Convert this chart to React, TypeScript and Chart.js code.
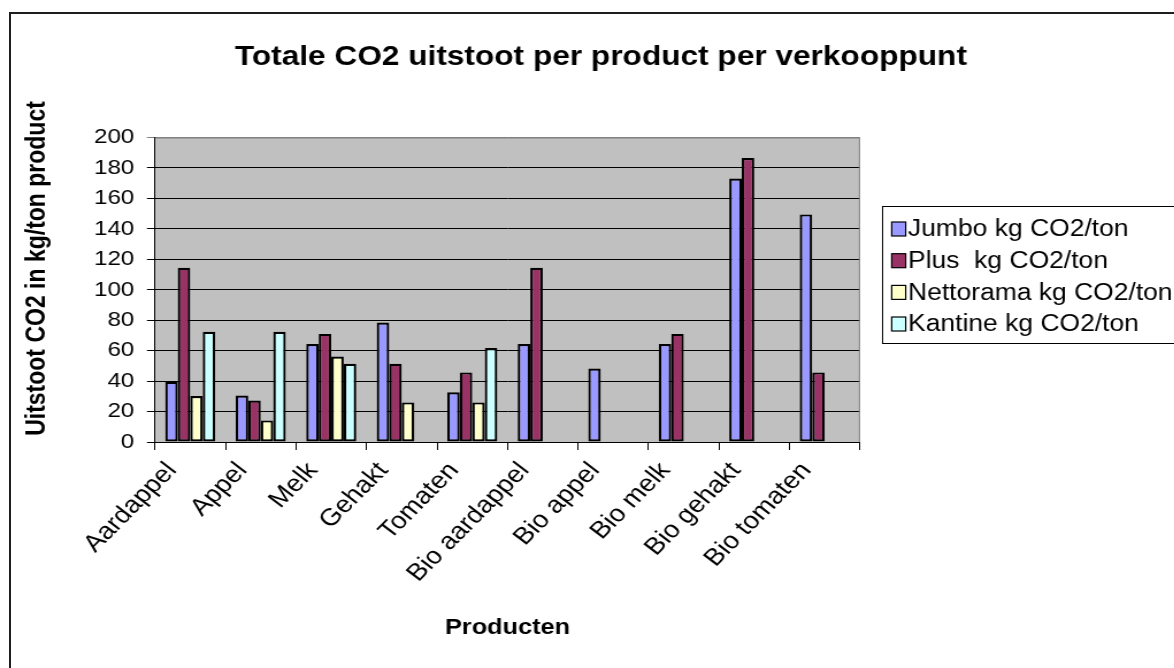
import React, { useEffect, useRef } from 'react';
import { Chart, registerables } from 'chart.js';

Chart.register(...registerables);

const categories = ['Aardappel', 'Appel', 'Melk', 'Gehakt', 'Tomaten', 'Bio aardappel', 'Bio appel', 'Bio melk', 'Bio gehakt', 'Bio tomaten'];
const jumbo = [39.5, 30.5, 64.3, 78.5, 32.6, 64.3, 48.3, 64.3, 173, 149.5];
const plus = [114.4, 27.3, 71, 51.4, 45.7, 114.4, null, 71, 186.5, 45.7];
const nettorama = [30.2, 14.2, 56.2, 26, 26, null, null, null, null, null];
const kantine = [72.4, 72.4, 51.4, null, 61.7, null, null, null, null, null];
const seriesLabels = ['Jumbo kg CO2/ton', 'Plus  kg CO2/ton', 'Nettorama kg CO2/ton', 'Kantine kg CO2/ton'];
const seriesColors = ['#9999FF', '#993366', '#FFFFCC', '#CCFFFF'];
const titleText = 'Totale CO2 uitstoot per product per verkooppunt';
const yTitleText = 'Uitstoot CO2 in kg/ton product';
const xTitleText = 'Producten';

const S = 1.15;
const W = Math.round(1174 / S);
const H = 668;
const FONT = "'Liberation Sans', Arial, sans-serif";
const PAD_LEFT = 24;

const decor = {
  id: 'decor',
  beforeDraw(chart: any) {
    const { ctx, chartArea: a } = chart;
    ctx.save();
    ctx.fillStyle = '#C0C0C0';
    ctx.fillRect(a.left, a.top, a.right - a.left, a.bottom - a.top);
    ctx.restore();
  },
  afterDraw(chart: any) {
    const { ctx, chartArea: a } = chart;
    ctx.save();
    ctx.strokeStyle = '#808080';
    ctx.lineWidth = 1;
    ctx.beginPath();
    ctx.moveTo(a.left, a.top + 0.5);
    ctx.lineTo(a.right - 0.5, a.top + 0.5);
    ctx.lineTo(a.right - 0.5, a.bottom);
    ctx.stroke();

    ctx.fillStyle = '#000';
    ctx.font = `bold 23px ${FONT}`;
    ctx.textAlign = 'center';
    ctx.textBaseline = 'middle';
    ctx.save();
    ctx.translate(38 / S, 268.5);
    ctx.rotate(-Math.PI / 2);
    ctx.fillText(yTitleText, 0, 0);
    ctx.restore();

    const lx = 882 / S;
    ctx.strokeStyle = '#000';
    ctx.lineWidth = 1;
    ctx.strokeRect(lx + 0.5, 206.5, 400, 137);
    const rows = [229, 260.7, 292.4, 324];
    ctx.font = `23px ${FONT}`;
    ctx.textAlign = 'left';
    ctx.textBaseline = 'middle';
    chart.data.datasets.forEach((ds: any, i: number) => {
      const y = rows[i];
      ctx.fillStyle = ds.backgroundColor;
      ctx.fillRect(891.7 / S, y - 7, 14 / S, 14);
      ctx.strokeStyle = '#000';
      ctx.lineWidth = 1.2;
      ctx.strokeRect(891.7 / S, y - 7, 14 / S, 14);
      ctx.fillStyle = '#000';
      ctx.fillText(ds.label, 908 / S, y + 1);
    });
    ctx.restore();
  },
};

export default function App() {
  const ref = useRef<HTMLCanvasElement>(null);
  useEffect(() => {
    const seriesData = [jumbo, plus, nettorama, kantine];
    const chart = new Chart(ref.current as HTMLCanvasElement, {
      type: 'bar',
      data: {
        labels: categories,
        datasets: seriesData.map((d, i) => ({
          label: seriesLabels[i],
          data: d,
          backgroundColor: seriesColors[i],
          borderColor: '#000',
          borderWidth: 2.2,
          borderSkipped: false,
          categoryPercentage: 0.71,
          barPercentage: 1.0,
        })),
      } as any,
      options: {
        responsive: false,
        devicePixelRatio: 1,
        animation: false,
        layout: { padding: { left: PAD_LEFT, right: 0, top: 0, bottom: 0 } },
        plugins: {
          legend: { display: false },
          tooltip: { enabled: false },
          title: {
            display: true,
            text: titleText,
            color: '#000',
            font: { family: FONT, size: 27.5, weight: 'bold' },
            padding: { top: 40.5, bottom: 64 },
          },
        },
        scales: {
          x: {
            type: 'category',
            grid: { drawOnChartArea: false, color: '#000', tickLength: 8, lineWidth: 1 },
            border: { color: '#000', width: 1 },
            ticks: {
              color: '#000',
              font: { family: FONT, size: 24 },
              minRotation: 49,
              maxRotation: 49,
              autoSkip: false,
              padding: 7,
              labelOffset: -16,
            },
            title: {
              display: true,
              text: xTitleText,
              color: '#000',
              font: { family: FONT, size: 22, weight: 'bold' },
              padding: { top: 0, bottom: 27 },
            },
            afterFit: (s: any) => { s.height = 226; },
          },
          y: {
            min: 0,
            max: 200,
            ticks: { stepSize: 20, color: '#000', font: { family: FONT, size: 21 }, padding: 11 },
            grid: {
              color: (c: any) => (c.tick && c.tick.value === 200 ? '#808080' : '#000'),
              tickLength: 7,
              lineWidth: 1,
            },
            border: { color: '#000', width: 1 },
            afterFit: (s: any) => { s.width = 155 / S - PAD_LEFT; },
          },
          yR: {
            type: 'linear',
            position: 'right',
            display: true,
            grid: { display: false },
            ticks: { display: false },
            border: { display: false },
            afterFit: (s: any) => { s.width = W - 860 / S; },
          },
        },
      } as any,
      plugins: [decor],
    });
    return () => chart.destroy();
  }, []);

  return (
    <div style={{ position: 'fixed', left: 0, top: 0, width: 1174, height: 668, overflow: 'hidden', background: '#fff' }}>
      <div style={{ position: 'absolute', left: 9, top: 12, width: 3000, height: 3000, borderTop: '2px solid #1e1e1e', borderLeft: '2px solid #1e1e1e' }} />
      <canvas
        ref={ref}
        width={W}
        height={H}
        style={{ position: 'absolute', left: 0, top: 0, width: W, height: H, transform: `scaleX(${S})`, transformOrigin: '0 0' }}
      />
    </div>
  );
}
